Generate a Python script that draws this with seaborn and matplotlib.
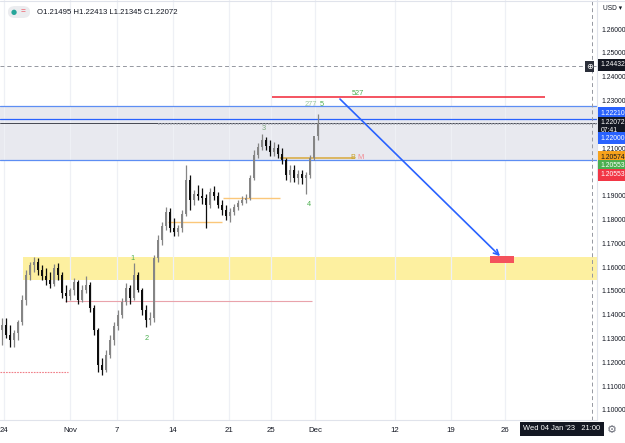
import matplotlib
matplotlib.use("Agg")
import matplotlib.pyplot as plt
import matplotlib.transforms as mtransforms
from matplotlib import font_manager
from matplotlib.patches import Rectangle, FancyArrowPatch, FancyBboxPatch
from matplotlib.lines import Line2D
import numpy as np
import pandas as pd
import seaborn as sns

# --- candle data (EURUSD, ~3 bars per trading day) ---
first_open = 1.1336
closes = [1.1357, 1.1315, 1.1294, 1.1323, 1.1369, 1.1462, 1.1567, 1.1609, 1.1621, 1.1588,
          1.1563, 1.1546, 1.1529, 1.1596, 1.1567, 1.1491, 1.1479, 1.1504, 1.1537, 1.1462,
          1.1504, 1.1525, 1.1428, 1.1336, 1.1189, 1.1168, 1.1231, 1.1294, 1.1353, 1.1399,
          1.1453, 1.1512, 1.1470, 1.1567, 1.1504, 1.1420, 1.1378, 1.1386, 1.1638, 1.1714,
          1.1773, 1.1831, 1.1764, 1.1747, 1.1764, 1.1823, 1.1966, 1.1882, 1.1907, 1.1899,
          1.1890, 1.1861, 1.1915, 1.1899, 1.1861, 1.1840, 1.1815, 1.1831, 1.1852, 1.1869,
          1.1882, 1.1890, 1.1974, 1.2071, 1.2104, 1.2134, 1.2109, 1.2083, 1.2100, 1.2075,
          1.2050, 1.1987, 1.2008, 1.1974, 1.1991, 1.1974, 1.1987, 1.2058, 1.21495, 1.22072]
highs = [1.1386, 1.1386, 1.1357, 1.1336, 1.1378, 1.1483, 1.1588, 1.1621, 1.1642, 1.1638,
         1.1609, 1.1596, 1.1579, 1.1613, 1.1617, 1.1579, 1.1525, 1.1512, 1.1554, 1.1546,
         1.1525, 1.1563, 1.1537, 1.1441, 1.1344, 1.1218, 1.1252, 1.1315, 1.1369, 1.1420,
         1.1470, 1.1533, 1.1525, 1.1617, 1.1579, 1.1512, 1.1441, 1.1411, 1.1651, 1.1735,
         1.1789, 1.1852, 1.1848, 1.1806, 1.1777, 1.1840, 1.2029, 1.1987, 1.1924, 1.1945,
         1.1932, 1.1907, 1.1932, 1.1941, 1.1915, 1.1882, 1.1861, 1.1848, 1.1865, 1.1882,
         1.1899, 1.1907, 1.1987, 1.2092, 1.2121, 1.2159, 1.2146, 1.2134, 1.2125, 1.2117,
         1.2100, 1.2058, 1.2029, 1.2029, 1.2008, 1.2008, 1.1999, 1.2071, 1.2142, 1.22413]
lows = [1.1273, 1.1302, 1.1264, 1.1264, 1.1294, 1.1357, 1.1441, 1.1546, 1.1579, 1.1567,
        1.1546, 1.1525, 1.1512, 1.1521, 1.1546, 1.1470, 1.1453, 1.1462, 1.1483, 1.1445,
        1.1453, 1.1491, 1.1411, 1.1315, 1.1159, 1.1147, 1.1159, 1.1218, 1.1273, 1.1336,
        1.1386, 1.1441, 1.1445, 1.1462, 1.1495, 1.1399, 1.1348, 1.1357, 1.1369, 1.1621,
        1.1693, 1.1756, 1.1747, 1.1731, 1.1731, 1.1747, 1.1815, 1.1840, 1.1861, 1.1882,
        1.1865, 1.1764, 1.1848, 1.1882, 1.1848, 1.1819, 1.1798, 1.1789, 1.1819, 1.1840,
        1.1861, 1.1869, 1.1882, 1.1966, 1.2058, 1.2092, 1.2092, 1.2067, 1.2067, 1.2058,
        1.2033, 1.1966, 1.1957, 1.1957, 1.1949, 1.1949, 1.1907, 1.1974, 1.2050, 1.21345]

date_labels = ["24", "Nov", "7", "14", "21", "25", "Dec", "12", "19", "26"]
date_pos = [0.6, 17.0, 28.75, 42.75, 56.75, 67.25, 78.25, 98.25, 112.25, 125.75]
price_ticks = [1.10, 1.11, 1.12, 1.13, 1.14, 1.15, 1.16, 1.17, 1.18, 1.19,
               1.21, 1.23, 1.24, 1.25, 1.26]

# drawn levels / zones
supply_zone = (1.2050, 1.2277)
demand_zone = (1.1546, 1.1642)
target_level = 1.2314
crosshair_price = 1.24432
last_price = 1.22072

df = pd.DataFrame({"close": closes, "high": highs, "low": lows})
df["open"] = [first_open] + closes[:-1]

sns.set_theme(style="white")
plt.rcParams["font.family"] = ["Liberation Sans", "DejaVu Sans"]

installed = {f.name for f in font_manager.fontManager.ttflist}
if "Liberation Sans Narrow" in installed:
    scale_font, scale_size = ["Liberation Sans Narrow", "DejaVu Sans"], 5.8
else:
    scale_font, scale_size = ["Liberation Sans", "DejaVu Sans"], 4.9

fig = plt.figure(figsize=(6.25, 4.43), dpi=100)
ax = fig.add_axes([0, 23 / 443, 597 / 625, 420 / 443])
ax.set_xlim(-0.5, 148.75)
ax.set_ylim(1.09578, 1.27218)

ax.set_xticks(date_pos, date_labels)
ax.grid(axis="x", color="#eef0f5", lw=0.9)
ax.grid(axis="y", visible=False)
ax.yaxis.tick_right()
ax.set_yticks(price_ticks, [f"{t:.5f}" for t in price_ticks])
ax.tick_params(axis="y", length=0, pad=3, labelsize=scale_size, labelcolor="#131722")
ax.tick_params(axis="x", length=0, pad=5, labelsize=5.6, labelcolor="#131722")
for lab in ax.get_yticklabels():
    lab.set_family(scale_font)
for side in ["top", "left"]:
    ax.spines[side].set_visible(False)
for side in ["right", "bottom"]:
    ax.spines[side].set_color("#e0e3eb")
    ax.spines[side].set_linewidth(0.8)

# zones
ax.axhspan(*supply_zone, color="#e8e9ef", zorder=0, lw=0)
ax.axhline(supply_zone[0], color="#5d8ef3", lw=0.9, zorder=1)
ax.axhline(supply_zone[1], color="#5d8ef3", lw=0.9, zorder=1)
ax.axhline(1.2221, color="#2962ff", lw=0.9, zorder=1)
ax.axhline(last_price, color="#2a2e39", lw=0.6, zorder=1)
ax.hlines(1.2203, 39, 148.75, color="#a6a9b2", lw=1.1, ls=(0, (1, 1)), zorder=1)
ax.add_patch(Rectangle((5.25, demand_zone[0]), 200, demand_zone[1] - demand_zone[0],
                       facecolor="#fdf0a0", edgecolor="none", zorder=0))

# other drawn lines
ax.hlines(target_level, 67.5, 135.75, color="#f23645", lw=1.2, zorder=2)
ax.hlines(1.1458, 15.75, 77.5, color="#e9a3ab", lw=0.8, zorder=1)
ax.hlines(1.1159, -0.5, 16.5, color="#f07f88", lw=0.8, ls=(0, (1.5, 1)), zorder=1)
ax.hlines(1.1789, 41.5, 55, color="#fbc77a", lw=1.0, zorder=2)
ax.hlines(1.1890, 55.25, 69.5, color="#fbc77a", lw=1.0, zorder=2)
ax.hlines(1.2058, 69.5, 88.25, color="#d8a93c", lw=1.1, zorder=2)

# crosshair
ax.axhline(crosshair_price, color="#9598a1", lw=0.7, ls=(0, (4, 3)), zorder=1)
ax.axvline(147.5, color="#9598a1", lw=0.7, ls=(0, (4, 3)), zorder=1)

# candles
up = df["close"] >= df["open"]
colors = np.where(up, "#858585", "#0d0d0d")
ax.vlines(df.index, df["low"], df["high"], colors=colors, lw=0.9, zorder=3)
body = (df["close"] - df["open"]).abs().clip(lower=0.00025)
ax.bar(df.index, body, bottom=df[["open", "close"]].min(axis=1), width=0.68,
       color=colors, lw=0, zorder=4)

# projection arrow and target box
ax.add_patch(FancyArrowPatch((84, target_level), (125, 1.1638), arrowstyle="->",
                             mutation_scale=9, color="#2962ff", lw=1.2, zorder=5))
ax.add_patch(Rectangle((122, 1.1617), 6, 0.0030, facecolor="#f4525c",
                       edgecolor="none", zorder=5))

# wave labels
wave = dict(fontsize=5.3, ha="center", va="center", zorder=6)
ax.text(32.5, 1.1638, "1", color="#4caf50", **wave)
ax.text(36.25, 1.1301, "2", color="#4caf50", **wave)
ax.text(65.5, 1.2184, "3", color="#7aa37c", **wave)
ax.text(76.75, 1.1865, "4", color="#4caf50", **wave)
ax.text(80.0, 1.2282, "5", color="#4caf50", **wave)
ax.text(77.25, 1.2282, "277", color="#9cc79e", **wave)
ax.text(89.0, 1.2330, "527", color="#4caf50", **wave)
ax.text(87.75, 1.2062, "B", color="#c9a227", **wave)
ax.text(89.5, 1.2062, "M", color="#f28b93", **wave)

# price scale labels
blend = mtransforms.blended_transform_factory(ax.transAxes, ax.transData)
def tag(price, txt, fc, tc="white"):
    ax.text(1.006, price, txt, transform=blend, ha="left", va="center",
            fontsize=scale_size, family=scale_font, color=tc, clip_on=False, zorder=10,
            linespacing=1.15,
            bbox=dict(boxstyle="square,pad=0.32", fc=fc, ec="none"))

tag(1.2449, "1.24432", "#131722")
tag(1.2247, "1.22210", "#2962ff")
tag(1.2190, "1.22072\n07:41", "#131722")
tag(1.2142, "1.22000", "#2962ff")
tag(1.2062, "1.20574", "#f7a21b", "#131722")
tag(1.2025, "1.20553", "#4caf50")
tag(1.1987, "1.20553", "#f23645")
ax.text(146.9, crosshair_price, "⊕", ha="center", va="center", fontsize=6,
        family=["DejaVu Sans"], color="white", zorder=10,
        bbox=dict(boxstyle="square,pad=0.15", fc="#2a2e39", ec="none"))

# header, top-right currency, bottom time tag, gear
fig.add_artist(Line2D([0, 1], [0.998, 0.998], color="#e0e3eb", lw=0.8))
fig.add_artist(FancyBboxPatch((8 / 625, 1 - 18 / 443), 22 / 625, 12 / 443,
                              boxstyle="round,pad=0,rounding_size=0.012",
                              fc="#ebecef", ec="none", transform=fig.transFigure))
fig.text(13.5 / 625, 1 - 12 / 443, "●", fontsize=5, color="#26a69a", ha="center",
         va="center", family=["DejaVu Sans"])
fig.text(23 / 625, 1 - 12 / 443, "=", fontsize=6, color="#f23645", ha="center", va="center")
fig.text(37 / 625, 1 - 12 / 443, "O1.21495 H1.22413 L1.21345 C1.22072",
         fontsize=5.6, color="#131722", va="center")
fig.text(603 / 625, 1 - 9 / 443, "USD ▾", fontsize=4.8, color="#131722", va="center",
         family=["Liberation Sans", "DejaVu Sans"])
fig.text(562 / 625, 1 - 429 / 443, "Wed 04 Jan '23   21:00", fontsize=5.4, color="white",
         ha="center", va="center",
         bbox=dict(boxstyle="square,pad=0.5", fc="#131722", ec="none"))
fig.text(612 / 625, 1 - 430 / 443, "⚙", fontsize=8, color="#6a6d78", ha="center",
         va="center", family=["DejaVu Sans"])

fig.savefig("out.png", dpi=100)
